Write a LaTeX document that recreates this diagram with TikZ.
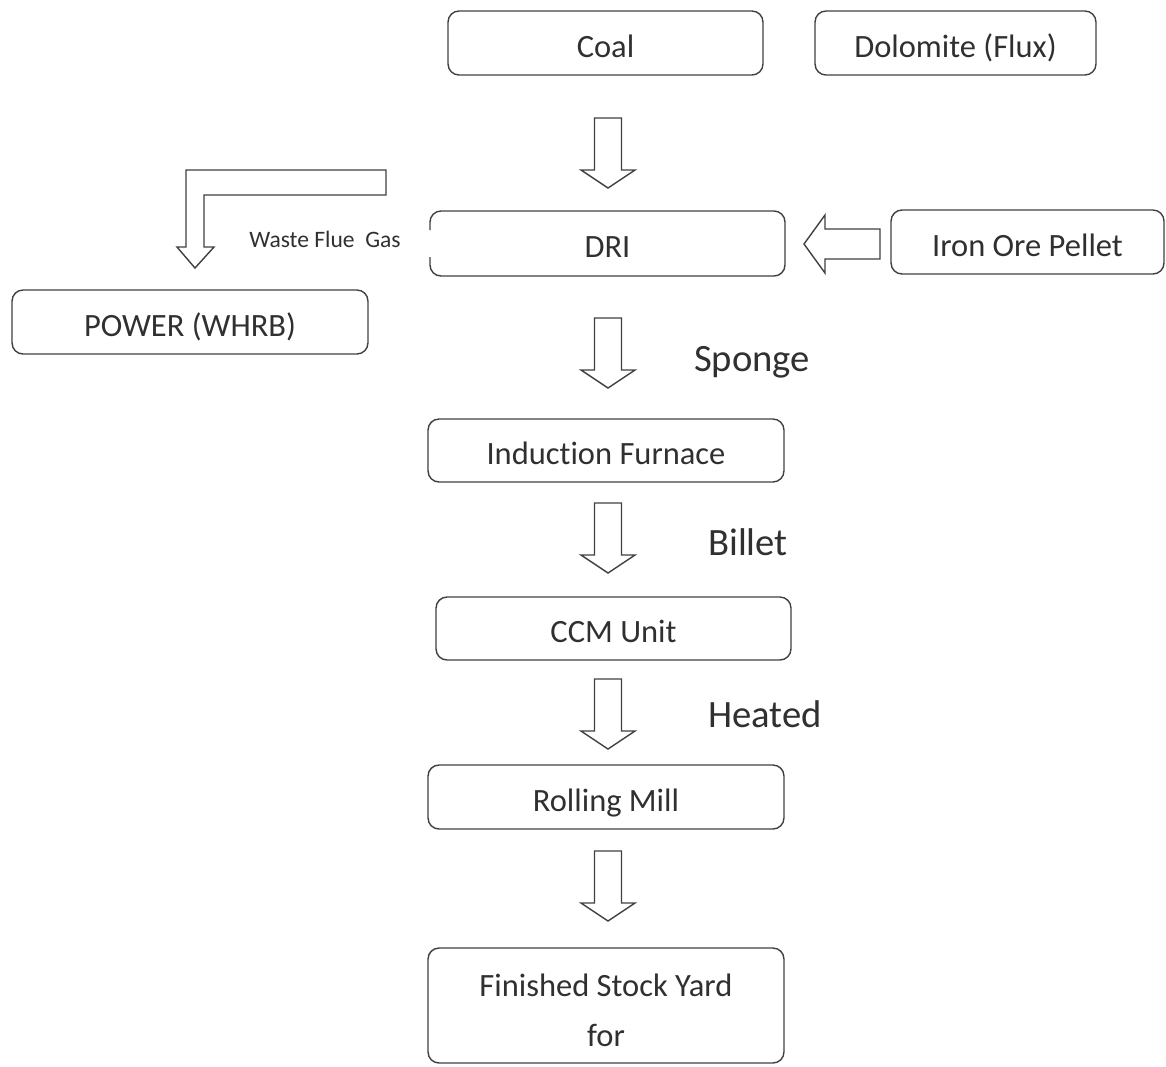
\documentclass[tikz,border=0pt]{standalone}
\usepackage{fontspec}
\setmainfont{Carlito}[Ligatures=NoCommon]
\definecolor{linec}{HTML}{404040}
\definecolor{textc}{HTML}{303030}
\begin{document}
\begin{tikzpicture}[x=0.02cm,y=-0.02cm,
  box/.style={draw=linec, line width=0.8pt, rounded corners=0.22cm, inner sep=0pt, text=textc, font=\fontsize{18.5}{22}\selectfont, text height=16.4pt, text depth=0pt},
  blk/.style={draw=linec, line width=0.8pt, fill=white, line join=miter},
  lbl/.style={text=textc, font=\fontsize{22}{26}\selectfont, inner sep=0pt},
  small/.style={text=textc, font=\fontsize{13.4}{16}\selectfont, inner sep=0pt}]
\useasboundingbox (0,0) rectangle (1166,1066);
\newcommand\blockdown[3]{%
  \draw[blk] (608-13.5,#1)--(608+13.5,#1)--(608+13.5,#2)--(608+27,#2)--(608,#3)--(608-27,#2)--(608-13.5,#2)--cycle;}
% boxes
\node[box, minimum width=6.3cm, minimum height=1.28cm] (coal) at (605.5,43) {Coal};
\node[box, minimum width=5.62cm, minimum height=1.28cm] (dolo) at (955.5,43) {Dolomite (Flux)};
\node[box, draw=none, minimum width=7.1cm, minimum height=1.3cm] (dri) at (607.5,243.5) {DRI};
\draw[draw=linec, line width=0.8pt, rounded corners=0.22cm] (430,230) -- (430,211) -- (785,211) -- (785,276) -- (430,276) -- (430,257);
\node[box, minimum width=5.46cm, minimum height=1.28cm] (iron) at (1027.5,242) {Iron Ore Pellet};
\node[box, minimum width=7.12cm, minimum height=1.28cm] (power) at (190,322) {POWER (WHRB)};
\node[box, minimum width=7.12cm, minimum height=1.26cm] (ind) at (606,450.5) {Induction Furnace};
\node[box, minimum width=7.1cm, minimum height=1.26cm] (ccm) at (613.5,628.5) {CCM Unit};
\node[box, minimum width=7.12cm, minimum height=1.28cm] (roll) at (606,797) {Rolling Mill};
\node[box, minimum width=7.12cm, minimum height=2.3cm, align=center, font=\fontsize{18.5}{28.3}\selectfont, text height=46.5pt] (fin) at (606,1005.5) {Finished Stock Yard\\for};
% block arrows down
\blockdown{118}{170}{188}
\blockdown{318}{370}{388}
\blockdown{503}{555}{573}
\blockdown{679}{731}{749}
\blockdown{851}{903}{921}
% left arrow from Iron Ore Pellet to DRI
\draw[blk] (880,229)--(880,259)--(825,259)--(825,273)--(804,244)--(825,215)--(825,229)--cycle;
% L arrow waste flue gas
\draw[blk] (386,170)--(186,170)--(186,247)--(177,247)--(195,268)--(214,247)--(204,247)--(204,195)--(386,195)--cycle;
% labels
\node[small] (waste) at (325,239) {Waste Flue\ \ Gas};
\node[lbl] (sponge) at (752,362) {Sponge};
\node[lbl] (billet) at (748,542) {Billet};
\node[lbl] (heated) at (765,714) {Heated};
\end{tikzpicture}
\end{document}
